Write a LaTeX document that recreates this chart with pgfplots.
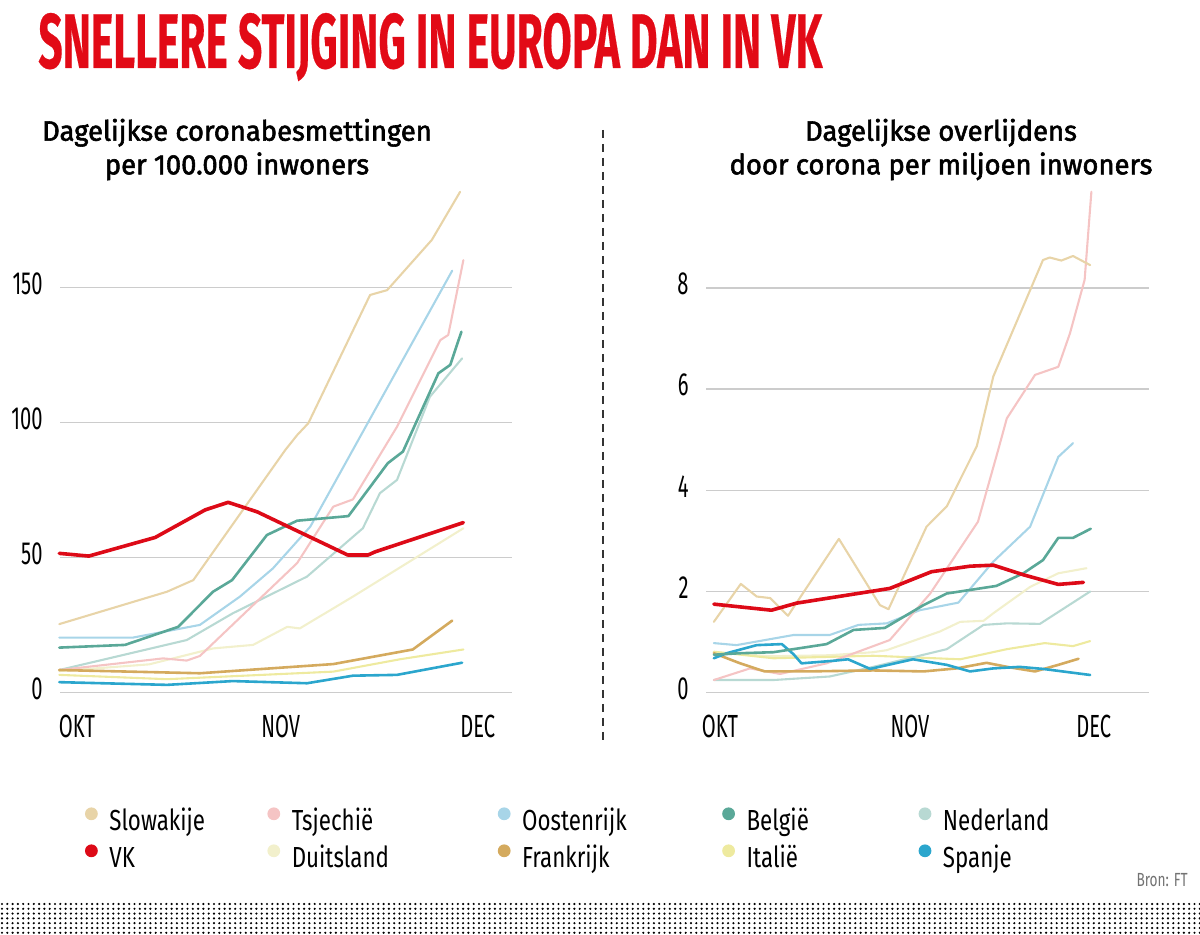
\documentclass[border=0pt]{standalone}
\usepackage{fontspec}
\usepackage{graphicx}
\usepackage{pgfplots}
\pgfplotsset{compat=1.18}
\setmainfont{Fira Sans}
\newfontfamily\tickfont{Fira Sans}[FakeStretch=0.63]
\newfontfamily\legfont{Fira Sans}[FakeStretch=0.77]
\newfontfamily\subfont{Fira Sans}[FakeBold=2,FakeStretch=0.98]
\newfontfamily\titlefont{Fira Sans}[FakeBold=0.4]
\newfontfamily\bronfont{Fira Sans}[FakeStretch=0.72]

\definecolor{slowc}{HTML}{E8D4A8}
\definecolor{tsjc}{HTML}{F5C4C4}
\definecolor{oostc}{HTML}{A8D5E8}
\definecolor{belc}{HTML}{5AA898}
\definecolor{nedc}{HTML}{B8D9D3}
\definecolor{vkc}{HTML}{DD0A17}
\definecolor{duic}{HTML}{F2F0CC}
\definecolor{frac}{HTML}{D4AA5E}
\definecolor{itac}{HTML}{EEEA9F}
\definecolor{spac}{HTML}{2BA6CD}
\definecolor{titlered}{HTML}{E20A16}
\definecolor{gridgray}{HTML}{CCCCCC}

\pgfplotsset{
  chartbase/.style={
    scale only axis,
    axis line style={draw=none},
    major tick style={draw=none},
    minor tick style={draw=none},
    ymajorgrids,
    grid style={color=gridgray, line width=0.75pt},
    xtick={0,31,61},
    xticklabels={OKT,NOV,DEC},
    tick label style={font=\tickfont\fontsize{16pt}{16pt}\selectfont, text=black},
    /pgf/number format/assume math mode=true,
    yticklabel style={anchor=east, inner sep=0pt, xshift=-8.5pt, yshift=2pt},
    xticklabel style={anchor=north, inner sep=0pt, yshift=-11.15pt},
    clip=false,
    every axis plot/.append style={line join=round, line cap=round},
    thin/.style={line width=1.05pt},
    mid/.style={line width=1.3pt},
    thick/.style={line width=1.8pt},
  }
}

\begin{document}
\begin{tikzpicture}
\path[use as bounding box] (0,0) rectangle (600pt,467.5pt);

% Title
\node[anchor=base west, inner sep=0pt, text=titlered] at (19pt,433.5pt)
  {\resizebox{392pt}{27.5pt}{\titlefont\bfseries SNELLERE STIJGING IN EUROPA DAN IN VK}};

% Subtitles
\node[anchor=base, inner sep=0pt] at (118.5pt,397.15pt) {\subfont\fontsize{14pt}{14pt}\selectfont Dagelijkse coronabesmettingen};
\node[anchor=base, inner sep=0pt] at (118.5pt,380.35pt) {\subfont\fontsize{14pt}{14pt}\selectfont per 100.000 inwoners};
\node[anchor=base, inner sep=0pt] at (470.5pt,397.15pt) {\subfont\fontsize{14pt}{14pt}\selectfont Dagelijkse overlijdens};
\node[anchor=base, inner sep=0pt] at (470.5pt,380.35pt) {\subfont\fontsize{14pt}{14pt}\selectfont door corona per miljoen inwoners};

% Dashed separator
\draw[line width=0.75pt, color=black!80, dash pattern=on 4pt off 3pt] (301.5pt,402.5pt) -- (301.5pt,97.5pt);

% LEFT chart
\begin{axis}[chartbase,
  at={(30pt,121.15pt)}, anchor=south west,
  width=226pt, height=256.5pt,
  xmin=-2.59, xmax=66.2, ymin=0, ymax=190,
  ytick={0,50,100,150},
  legend columns=5,
  legend image code/.code={\fill[#1, draw=none] (0pt,4.85pt) circle (3.2pt); \path[draw=none, fill=none] (-3pt,-3pt) rectangle (9pt,10pt);},
  legend cell align=left,
  legend style={draw=none, fill=none, inner sep=0pt, outer sep=0pt,
    at={(axis description cs:0.0553,-0.216)}, anchor=north west,
    /tikz/column sep=0pt, /tikz/row sep=2pt,
    nodes={inner sep=0pt, text height=10pt, text depth=3pt},
    font=\legfont\fontsize{14.5pt}{14.5pt}\selectfont},
]
% Duitsland
\addplot[thin, color=duic, forget plot] coordinates {(-2.7,8.0)(11.0,10.5)(20.7,16.4)(26.8,17.7)(32.0,24.4)(33.9,23.8)(42.0,35.6)(58.8,60.9)};
% Italie
\addplot[thin, color=itac, forget plot] coordinates {(-2.7,6.6)(13.7,5.0)(39.0,7.8)(49.2,12.4)(58.8,16.0)};
% Nederland
\addplot[thin, color=nedc, forget plot] coordinates {(-2.7,8.4)(16.7,19.5)(23.7,29.4)(35.0,43.0)(43.5,60.9)(46.1,73.9)(48.7,78.8)(53.7,109.6)(58.6,123.8)};
% Oostenrijk
\addplot[thin, color=oostc, forget plot] coordinates {(-2.7,20.4)(8.5,20.4)(18.7,25.1)(24.8,35.6)(29.8,46.0)(35.5,61.5)(57.1,156.3)};
% Tsjechie
\addplot[thin, color=tsjc, forget plot] coordinates {(-2.7,8.4)(13.1,12.7)(16.7,11.9)(18.7,13.6)(33.5,48.0)(39.0,68.9)(42.0,71.6)(48.7,98.5)(55.3,130.6)(56.5,132.5)(58.8,160.2)};
% Slowakije
\addplot[thin, color=slowc, forget plot] coordinates {(-2.7,25.4)(13.7,37.4)(17.7,41.7)(31.7,89.9)(33.5,95.4)(35.2,99.8)(44.6,147.3)(47.2,149.1)(54.0,167.7)(58.3,185.5)};
% Frankrijk
\addplot[mid, color=frac, forget plot] coordinates {(-2.7,8.4)(18.7,7.2)(39.0,10.6)(51.1,16.0)(57.1,26.7)};
% Spanje
\addplot[mid, color=spac, forget plot] coordinates {(-2.7,3.9)(13.7,2.9)(23.7,4.3)(35.0,3.5)(42.0,6.3)(48.7,6.6)(58.6,11.1)};
% Belgie
\addplot[mid, color=belc, forget plot] coordinates {(-2.7,16.7)(7.3,17.7)(15.4,24.4)(20.7,37.4)(23.6,41.7)(28.9,58.4)(33.5,63.7)(41.3,65.4)(47.3,85.0)(49.6,89.3)(55.0,118.3)(56.8,121.4)(58.5,133.7)};
% VK
\addplot[thick, color=vkc, forget plot] coordinates {(-2.7,51.6)(1.8,50.6)(11.9,57.5)(19.5,67.7)(23.0,70.5)(27.4,67.0)(41.2,51.0)(44.3,51.0)(45.4,52.2)(58.8,63.0)};

\addlegendimage{color=slowc}\addlegendentry{\makebox[79pt][l]{Slowakije}}
\addlegendimage{color=tsjc}\addlegendentry{\makebox[103pt][l]{Tsjechië}}
\addlegendimage{color=oostc}\addlegendentry{\makebox[100pt][l]{Oostenrijk}}
\addlegendimage{color=belc}\addlegendentry{\makebox[86pt][l]{België}}
\addlegendimage{color=nedc}\addlegendentry{\makebox[50pt][l]{Nederland}}
\addlegendimage{color=vkc}\addlegendentry{VK}
\addlegendimage{color=duic}\addlegendentry{Duitsland}
\addlegendimage{color=frac}\addlegendentry{Frankrijk}
\addlegendimage{color=itac}\addlegendentry{Italië}
\addlegendimage{color=spac}\addlegendentry{Spanje}
\end{axis}

% RIGHT chart
\begin{axis}[chartbase,
  at={(353pt,121.15pt)}, anchor=south west,
  width=221.5pt, height=256.5pt,
  xmin=-2.28, xmax=70.0, ymin=0, ymax=10.138,
  ytick={0,2,4,6,8},
]
% Duitsland
\addplot[thin, color=duic] coordinates {(-1.0,0.80)(8.2,0.72)(17.9,0.74)(25.0,0.80)(27.2,0.84)(35.9,1.21)(39.2,1.40)(43.0,1.42)(44.6,1.57)(50.6,2.09)(55.2,2.36)(59.8,2.46)};
% Italie
\addplot[thin, color=itac] coordinates {(-1.0,0.81)(8.7,0.68)(25.0,0.73)(39.2,0.66)(46.8,0.86)(53.0,0.98)(57.6,0.92)(60.4,1.02)};
% Nederland
\addplot[thin, color=nedc] coordinates {(-1.0,0.25)(8.7,0.25)(17.9,0.32)(25.0,0.51)(37.0,0.86)(43.0,1.34)(46.8,1.37)(52.2,1.36)(60.4,2.00)};
% Oostenrijk
\addplot[thin, color=oostc] coordinates {(-1.0,0.98)(2.7,0.94)(12.0,1.14)(17.9,1.14)(22.6,1.34)(27.2,1.37)(32.6,1.63)(38.9,1.78)(44.6,2.59)(50.6,3.28)(55.2,4.66)(57.6,4.93)};
% Tsjechie
\addplot[thin, color=tsjc] coordinates {(-1.0,0.25)(4.9,0.48)(9.8,0.37)(17.4,0.58)(27.7,1.04)(34.3,1.96)(42.1,3.38)(45.4,4.80)(46.8,5.42)(51.4,6.28)(55.2,6.44)(57.1,7.10)(59.5,8.16)(60.6,9.90)};
% Slowakije
\addplot[thin, color=slowc] coordinates {(-1.0,1.40)(3.4,2.15)(6.0,1.90)(8.2,1.87)(11.1,1.52)(19.4,3.04)(26.1,1.73)(27.5,1.65)(33.7,3.28)(37.0,3.68)(41.9,4.87)(44.6,6.25)(52.7,8.55)(53.8,8.60)(55.7,8.54)(57.6,8.63)(60.4,8.45)};
% Frankrijk
\addplot[mid, color=frac] coordinates {(-1.0,0.78)(3.3,0.58)(7.3,0.42)(14.1,0.42)(25.0,0.44)(33.2,0.42)(38.6,0.48)(43.5,0.59)(47.3,0.50)(51.4,0.42)(55.2,0.55)(58.5,0.67)};
% Spanje
\addplot[mid, color=spac] coordinates {(-1.0,0.68)(1.1,0.78)(6.0,0.94)(10.1,0.96)(12.0,0.76)(13.3,0.58)(18.5,0.63)(20.9,0.66)(24.5,0.47)(31.5,0.66)(37.0,0.55)(40.8,0.42)(44.6,0.48)(48.9,0.51)(52.7,0.47)(60.4,0.35)};
% Belgie
\addplot[mid, color=belc] coordinates {(-1.0,0.75)(3.3,0.78)(8.7,0.80)(17.4,0.96)(21.8,1.24)(26.9,1.28)(33.2,1.73)(37.0,1.96)(45.1,2.11)(49.5,2.36)(52.7,2.62)(55.2,3.06)(57.6,3.06)(60.5,3.24)};
% VK
\addplot[thick, color=vkc] coordinates {(-1.0,1.75)(8.4,1.63)(12.5,1.77)(27.7,2.06)(34.5,2.39)(40.8,2.50)(44.6,2.52)(49.5,2.33)(55.2,2.14)(59.3,2.18)};
\end{axis}

% Source
\node[anchor=base east, inner sep=0pt, text=black!55] at (594pt,24pt) {\bronfont\fontsize{9.5pt}{9.5pt}\selectfont Bron: FT};

% Dotted band
\foreach \yy in {15.5,13.1,10.7,8.3,5.9,3.5,1.1} {
  \draw[line width=1.2pt, line cap=round, dash pattern=on 0pt off 2.65pt, color=black] (1pt,\yy pt) -- (600pt,\yy pt);
}
\end{tikzpicture}
\end{document}
